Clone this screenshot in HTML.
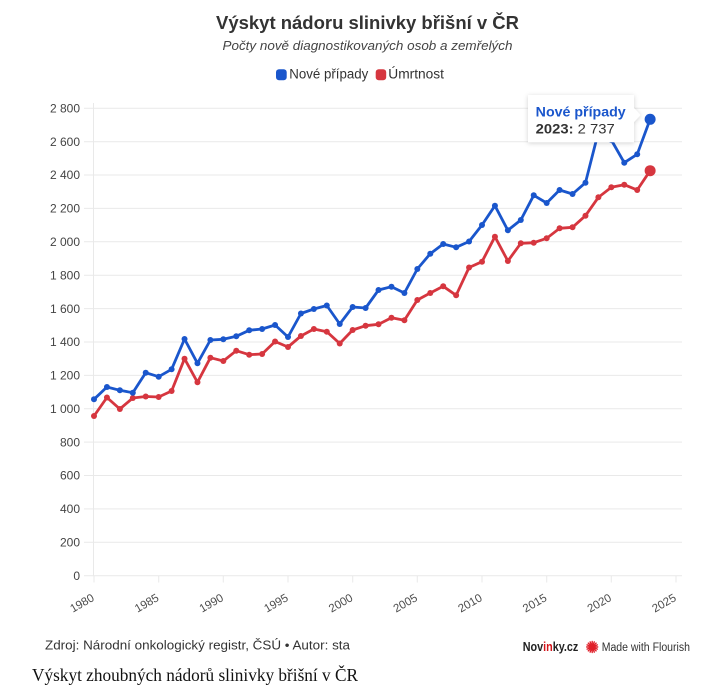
<!DOCTYPE html>
<html>
<head>
<meta charset="utf-8">
<style>
html,body{margin:0;padding:0;background:#fff;}
svg{display:block;}
text{font-family:"Liberation Sans",sans-serif;}
</style>
</head>
<body>
<svg width="727" height="693" viewBox="0 0 727 693" xmlns="http://www.w3.org/2000/svg">
<defs>
  <marker id="mb" markerWidth="8" markerHeight="8" refX="4" refY="4" markerUnits="userSpaceOnUse">
    <circle cx="4" cy="4" r="3" fill="#1a56cc"/>
  </marker>
  <marker id="mr" markerWidth="8" markerHeight="8" refX="4" refY="4" markerUnits="userSpaceOnUse">
    <circle cx="4" cy="4" r="3" fill="#d6363f"/>
  </marker>
  <filter id="sh" x="-20%" y="-30%" width="140%" height="160%">
    <feDropShadow dx="0" dy="1" stdDeviation="2.5" flood-color="#000" flood-opacity="0.18"/>
  </filter>
</defs>
<rect width="727" height="693" fill="#fff"/>

<!-- Title -->
<text x="367.5" y="29" text-anchor="middle" font-size="18.5" font-weight="bold" fill="#333" textLength="303" lengthAdjust="spacingAndGlyphs">Výskyt nádoru slinivky břišní v ČR</text>
<text x="367.5" y="50" text-anchor="middle" font-size="13" font-style="italic" fill="#444" textLength="290" lengthAdjust="spacingAndGlyphs">Počty nově diagnostikovaných osob a zemřelých</text>

<!-- Legend -->
<rect x="276" y="69.3" width="10.7" height="11" rx="3" fill="#1a56cc"/>
<text x="289.3" y="78.5" font-size="13.5" fill="#333" textLength="79" lengthAdjust="spacingAndGlyphs">Nové případy</text>
<rect x="375.7" y="69.3" width="10.5" height="11" rx="3" fill="#d6363f"/>
<text x="388.3" y="78.5" font-size="13.5" fill="#333" textLength="55.7" lengthAdjust="spacingAndGlyphs">Úmrtnost</text>

<!-- Gridlines -->
<g stroke="#e9e9e9" stroke-width="1">
  <line x1="84" x2="682" y1="108.3" y2="108.3"/>
  <line x1="84" x2="682" y1="141.7" y2="141.7"/>
  <line x1="84" x2="682" y1="175.0" y2="175.0"/>
  <line x1="84" x2="682" y1="208.4" y2="208.4"/>
  <line x1="84" x2="682" y1="241.8" y2="241.8"/>
  <line x1="84" x2="682" y1="275.2" y2="275.2"/>
  <line x1="84" x2="682" y1="308.6" y2="308.6"/>
  <line x1="84" x2="682" y1="342.0" y2="342.0"/>
  <line x1="84" x2="682" y1="375.4" y2="375.4"/>
  <line x1="84" x2="682" y1="408.8" y2="408.8"/>
  <line x1="84" x2="682" y1="442.1" y2="442.1"/>
  <line x1="84" x2="682" y1="475.5" y2="475.5"/>
  <line x1="84" x2="682" y1="508.9" y2="508.9"/>
  <line x1="84" x2="682" y1="542.3" y2="542.3"/>
  <line x1="84" x2="682" y1="575.7" y2="575.7"/>
  <line x1="93.5" x2="93.5" y1="103" y2="576"/>
  <line x1="94" x2="94" y1="576" y2="582.5"/>
  <line x1="158.7" x2="158.7" y1="576" y2="582.5"/>
  <line x1="223.3" x2="223.3" y1="576" y2="582.5"/>
  <line x1="288" x2="288" y1="576" y2="582.5"/>
  <line x1="352.7" x2="352.7" y1="576" y2="582.5"/>
  <line x1="417.3" x2="417.3" y1="576" y2="582.5"/>
  <line x1="482" x2="482" y1="576" y2="582.5"/>
  <line x1="546.7" x2="546.7" y1="576" y2="582.5"/>
  <line x1="611.3" x2="611.3" y1="576" y2="582.5"/>
  <line x1="676" x2="676" y1="576" y2="582.5"/>
</g>

<!-- Y labels -->
<g font-size="12" fill="#444" text-anchor="end">
  <text x="80" y="112.5">2 800</text>
  <text x="80" y="145.9">2 600</text>
  <text x="80" y="179.2">2 400</text>
  <text x="80" y="212.6">2 200</text>
  <text x="80" y="246">2 000</text>
  <text x="80" y="279.4">1 800</text>
  <text x="80" y="312.8">1 600</text>
  <text x="80" y="346.2">1 400</text>
  <text x="80" y="379.6">1 200</text>
  <text x="80" y="413">1 000</text>
  <text x="80" y="446.3">800</text>
  <text x="80" y="479.7">600</text>
  <text x="80" y="513.1">400</text>
  <text x="80" y="546.5">200</text>
  <text x="80" y="579.9">0</text>
</g>

<!-- X labels -->
<g font-size="11.5" fill="#4d4d4d" text-anchor="end">
  <text transform="translate(95,600) rotate(-30)">1980</text>
  <text transform="translate(159.7,600) rotate(-30)">1985</text>
  <text transform="translate(224.3,600) rotate(-30)">1990</text>
  <text transform="translate(289,600) rotate(-30)">1995</text>
  <text transform="translate(353.7,600) rotate(-30)">2000</text>
  <text transform="translate(418.3,600) rotate(-30)">2005</text>
  <text transform="translate(483,600) rotate(-30)">2010</text>
  <text transform="translate(547.7,600) rotate(-30)">2015</text>
  <text transform="translate(612.3,600) rotate(-30)">2020</text>
  <text transform="translate(677,600) rotate(-30)">2025</text>
</g>

<!-- Red series -->
<polyline fill="none" stroke="#d6363f" stroke-width="2.8" stroke-linejoin="round" stroke-linecap="round"
 marker-start="url(#mr)" marker-mid="url(#mr)"
 points="94,416 106.93,397.5 119.87,409 132.8,398 145.73,396.5 158.67,397 171.6,391 184.53,358.7 197.47,382.3 210.4,357.7 223.33,361 236.27,350.7 249.2,354.7 262.13,354 275.07,341.5 288,347 300.93,336 313.87,329 326.8,331.7 339.73,343.5 352.67,330 365.6,325.7 378.53,324.3 391.47,317.7 404.4,320.3 417.33,300 430.27,293 443.2,286.3 456.13,295.3 469.07,267.5 482,261.7 494.93,236.7 507.87,261 520.8,243.3 533.73,242.7 546.67,238.3 559.6,228.3 572.53,227.3 585.47,215.7 598.4,197.3 611.33,187.3 624.27,184.7 637.2,190 650.13,170.7"/>

<!-- Blue series -->
<polyline fill="none" stroke="#1a56cc" stroke-width="2.8" stroke-linejoin="round" stroke-linecap="round"
 marker-start="url(#mb)" marker-mid="url(#mb)"
 points="94,399.3 106.93,387 119.87,390.3 132.8,392.7 145.73,372.7 158.67,376.7 171.6,369.3 184.53,339 197.47,363.3 210.4,340 223.33,339.3 236.27,336.3 249.2,330.3 262.13,329 275.07,325 288,337 300.93,313.5 313.87,309 326.8,305.5 339.73,324 352.67,307 365.6,308 378.53,290 391.47,286.7 404.4,293 417.33,269 430.27,253.7 443.2,244 456.13,247.3 469.07,241.5 482,225 494.93,205.7 507.87,230.3 520.8,220 533.73,195.3 546.67,203 559.6,190 572.53,194 585.47,182.7 598.4,132 611.33,140 624.27,162.7 637.2,154.3 650.13,119.3"/>

<!-- Tooltip -->
<g filter="url(#sh)">
  <path d="M528,95 H634 V108 L640.5,115 L634,122 V142.3 H528 Z" fill="#fff"/>
</g>
<text x="535.7" y="116.5" font-size="14" font-weight="bold" fill="#1a56cc" textLength="90" lengthAdjust="spacingAndGlyphs">Nové případy</text>
<text x="535.7" y="133.3" font-size="14" fill="#333" textLength="79" lengthAdjust="spacingAndGlyphs"><tspan font-weight="bold">2023:</tspan> 2 737</text>

<!-- Last points -->
<circle cx="650.13" cy="119.3" r="5.5" fill="#1a56cc"/>
<circle cx="650.13" cy="170.7" r="5.5" fill="#d6363f"/>

<!-- Footer -->
<text x="45" y="649.5" font-size="13" fill="#333" textLength="305" lengthAdjust="spacingAndGlyphs">Zdroj: Národní onkologický registr, ČSÚ • Autor: sta</text>

<text x="522.7" y="651" font-size="12.5" font-weight="bold" fill="#222" textLength="55.6" lengthAdjust="spacingAndGlyphs">Nov<tspan fill="#d4151b">in</tspan>ky.cz</text>
<g transform="translate(592.2,647)" stroke="#e0202a" stroke-width="1.4" stroke-linecap="round">
  <circle r="3.2" fill="#e0202a" stroke="none"/>
  <line x1="0" y1="-5.5" x2="0" y2="5.5"/>
  <line x1="-5.5" y1="0" x2="5.5" y2="0"/>
  <line x1="-3.9" y1="-3.9" x2="3.9" y2="3.9"/>
  <line x1="-3.9" y1="3.9" x2="3.9" y2="-3.9"/>
  <line x1="-2.1" y1="-5.1" x2="2.1" y2="5.1"/>
  <line x1="-5.1" y1="-2.1" x2="5.1" y2="2.1"/>
  <line x1="-2.1" y1="5.1" x2="2.1" y2="-5.1"/>
  <line x1="-5.1" y1="2.1" x2="5.1" y2="-2.1"/>
</g>
<text x="601.7" y="651" font-size="11.5" fill="#333" textLength="88.3" lengthAdjust="spacingAndGlyphs">Made with Flourish</text>

<!-- Caption -->
<text x="32" y="681" font-size="17.5" fill="#111" textLength="326" lengthAdjust="spacingAndGlyphs" style="font-family:'Liberation Serif',serif">Výskyt zhoubných nádorů slinivky břišní v ČR</text>
</svg>
</body>
</html>
